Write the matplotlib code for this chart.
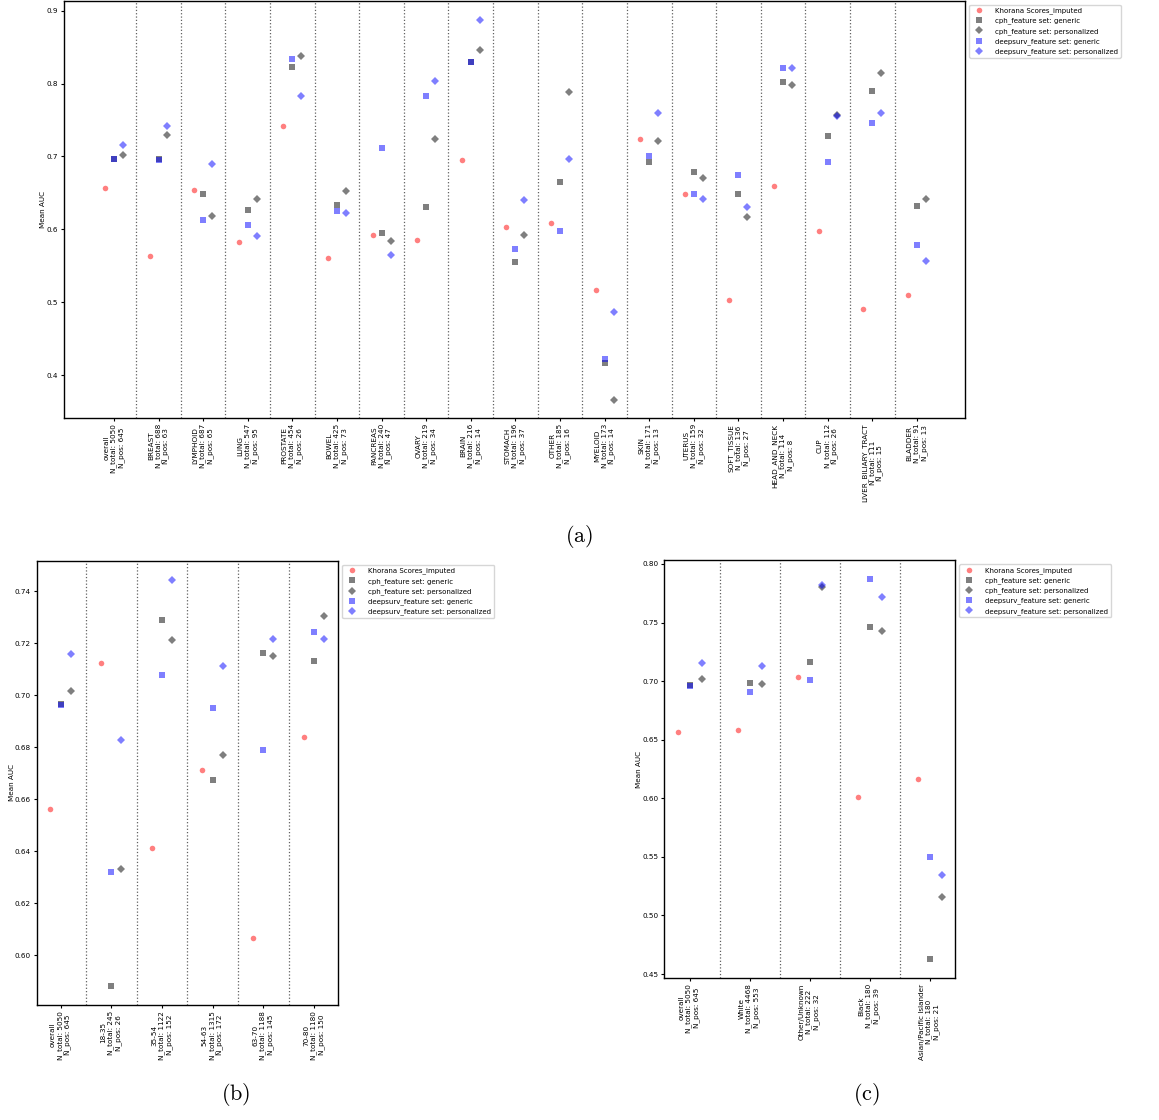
"""
Mean AUC per subgroup: Khorana score vs CPH / DeepSurv, three panels.
"""
import numpy as np
import matplotlib
matplotlib.use("Agg")
import matplotlib.pyplot as plt

plt.rcParams["mathtext.fontset"] = "cm"

# ---- panel (a): cancer type ----
cancer_names = ["overall", "BREAST", "LYMPHOID", "LUNG", "PROSTATE", "BOWEL",
                "PANCREAS", "OVARY", "BRAIN", "STOMACH", "OTHER", "MYELOID",
                "SKIN", "UTERUS", "SOFT_TISSUE", "HEAD_AND_NECK", "CUP",
                "LIVER_BILIARY_TRACT", "BLADDER"]
cancer_n_total = [5050, 688, 687, 547, 454, 425, 240, 219, 216, 196, 185, 173,
                  171, 159, 136, 114, 112, 111, 91]
cancer_n_pos = [645, 63, 65, 95, 26, 73, 47, 34, 14, 37, 16, 14, 13, 32, 27,
                8, 26, 15, 13]
cancer_khorana = [0.656, 0.564, 0.654, 0.582, 0.742, 0.561, 0.592, 0.585,
                  0.695, 0.603, 0.609, 0.517, 0.724, 0.649, 0.503, 0.660,
                  0.597, 0.491, 0.510]
cancer_cph_gen = [0.6966, 0.697, 0.649, 0.627, 0.823, 0.634, 0.595, 0.631,
                  0.829, 0.555, 0.665, 0.417, 0.693, 0.679, 0.648, 0.802,
                  0.728, 0.790, 0.632]
cancer_cph_pers = [0.7018, 0.730, 0.618, 0.641, 0.838, 0.652, 0.584, 0.724,
                   0.846, 0.592, 0.789, 0.366, 0.721, 0.671, 0.617, 0.798,
                   0.757, 0.815, 0.642]
cancer_ds_gen = [0.6963, 0.695, 0.613, 0.606, 0.834, 0.625, 0.712, 0.783,
                 0.830, 0.573, 0.597, 0.422, 0.701, 0.648, 0.674, 0.821,
                 0.693, 0.746, 0.579]
cancer_ds_pers = [0.7158, 0.742, 0.690, 0.591, 0.783, 0.623, 0.565, 0.804,
                  0.887, 0.640, 0.697, 0.486, 0.760, 0.642, 0.630, 0.822,
                  0.755, 0.760, 0.557]

# ---- panel (b): age group ----
age_names = ["overall", "18-35", "35-54", "54-63", "63-70", "70-80"]
age_n_total = [5050, 245, 1122, 1315, 1188, 1180]
age_n_pos = [645, 26, 152, 172, 145, 150]
age_khorana = [0.6562, 0.7125, 0.6413, 0.6711, 0.6067, 0.6838]
age_cph_gen = [0.6968, 0.5883, 0.7291, 0.6673, 0.7161, 0.7133]
age_cph_pers = [0.7018, 0.6331, 0.7213, 0.6770, 0.7151, 0.7305]
age_ds_gen = [0.6963, 0.6318, 0.7077, 0.6950, 0.6789, 0.7242]
age_ds_pers = [0.7159, 0.6828, 0.7442, 0.7111, 0.7218, 0.7217]

# ---- panel (c): race ----
race_names = ["overall", "White", "Other/Unknown", "Black",
              "Asian/Pacific Islander"]
race_n_total = [5050, 4468, 222, 180, 180]
race_n_pos = [645, 553, 32, 39, 21]
race_khorana = [0.6563, 0.6583, 0.7035, 0.6008, 0.6167]
race_cph_gen = [0.6966, 0.6984, 0.7163, 0.7462, 0.4627]
race_cph_pers = [0.7018, 0.6973, 0.7806, 0.7431, 0.5157]
race_ds_gen = [0.6962, 0.6910, 0.7007, 0.7869, 0.5496]
race_ds_pers = [0.7158, 0.7129, 0.7818, 0.7721, 0.5345]

SERIES = [
    ("Khorana Scores_imputed",             "red",   "o", 4.0, -0.2),
    ("cph_feature set: generic",           "black", "s", 4.0, 0.0),
    ("cph_feature set: personalized",      "black", "D", 4.3, 0.2),
    ("deepsurv_feature set: generic",      "blue",  "s", 4.0, 0.0),
    ("deepsurv_feature set: personalized", "blue",  "D", 4.3, 0.2),
]

FS = 5.2       # tick / axis label size
FS_LEG = 5.0   # legend size


def draw_panel(ax, names, n_total, n_pos, values, xlim, ylim, yticks, fmt,
               ylab_x):
    x = np.arange(len(names))
    for (label, color, marker, ms, dx), vals in zip(SERIES, values):
        ax.plot(x + dx, vals, linestyle="none", marker=marker, markersize=ms,
                color=color, alpha=0.5, markeredgewidth=0, label=label)
    # dotted separators between groups
    for i in range(len(names) - 1):
        ax.axvline(i + 0.5, color="#606060", linestyle=":", linewidth=0.9)
    ax.set_xticks(x)
    ax.set_xticklabels([f"{n}\nN_total: {t}\nN_pos: {p}"
                        for n, t, p in zip(names, n_total, n_pos)],
                       rotation=90, fontsize=FS, multialignment="center")
    ax.set_yticks(yticks)
    ax.set_yticklabels([fmt.format(v) for v in yticks], fontsize=FS)
    ax.set_xlim(*xlim)
    ax.set_ylim(*ylim)
    ax.tick_params(length=2.5, width=0.8, pad=1.6)
    ax.set_ylabel("Mean AUC", fontsize=FS)
    ax.yaxis.set_label_coords(ylab_x, 0.5)
    for sp in ax.spines.values():
        sp.set_linewidth(1.0)
    ax.legend(loc="upper left", bbox_to_anchor=(1.0, 1.0), fontsize=FS_LEG,
              borderaxespad=0.6, handletextpad=1.3, labelspacing=0.5,
              framealpha=0.8)


W, H = 1159, 1120
fig = plt.figure(figsize=(W / 100, H / 100), dpi=100)

ax_a = fig.add_axes([64 / W, 1 - 418 / H, 901 / W, 417.5 / H])
draw_panel(ax_a, cancer_names, cancer_n_total, cancer_n_pos,
           [cancer_khorana, cancer_cph_gen, cancer_cph_pers,
            cancer_ds_gen, cancer_ds_pers],
           (-1.12, 19.08), (0.341, 0.914),
           [0.4, 0.5, 0.6, 0.7, 0.8, 0.9], "{:.1f}", -0.0205)

ax_b = fig.add_axes([36.7 / W, 1 - 1005 / H, 301.6 / W, 444.3 / H])
draw_panel(ax_b, age_names, age_n_total, age_n_pos,
           [age_khorana, age_cph_gen, age_cph_pers, age_ds_gen, age_ds_pers],
           (-0.47, 5.48), (0.5808, 0.7518),
           [0.60, 0.62, 0.64, 0.66, 0.68, 0.70, 0.72, 0.74], "{:.2f}", -0.0736)

ax_c = fig.add_axes([664.3 / W, 1 - 978 / H, 291 / W, 418 / H])
draw_panel(ax_c, race_names, race_n_total, race_n_pos,
           [race_khorana, race_cph_gen, race_cph_pers, race_ds_gen,
            race_ds_pers],
           (-0.42, 4.43), (0.4466, 0.8034),
           [0.45, 0.50, 0.55, 0.60, 0.65, 0.70, 0.75, 0.80], "{:.2f}", -0.075)

# sub-figure captions
for label, xc, yc in [("(a)", 579, 537), ("(b)", 236, 1094), ("(c)", 866, 1094)]:
    fig.text(xc / W, 1 - yc / H, r"$\mathrm{" + label + "}$", fontsize=16,
             ha="center", va="center")

fig.savefig("out.png", dpi=100)
plt.close(fig)
